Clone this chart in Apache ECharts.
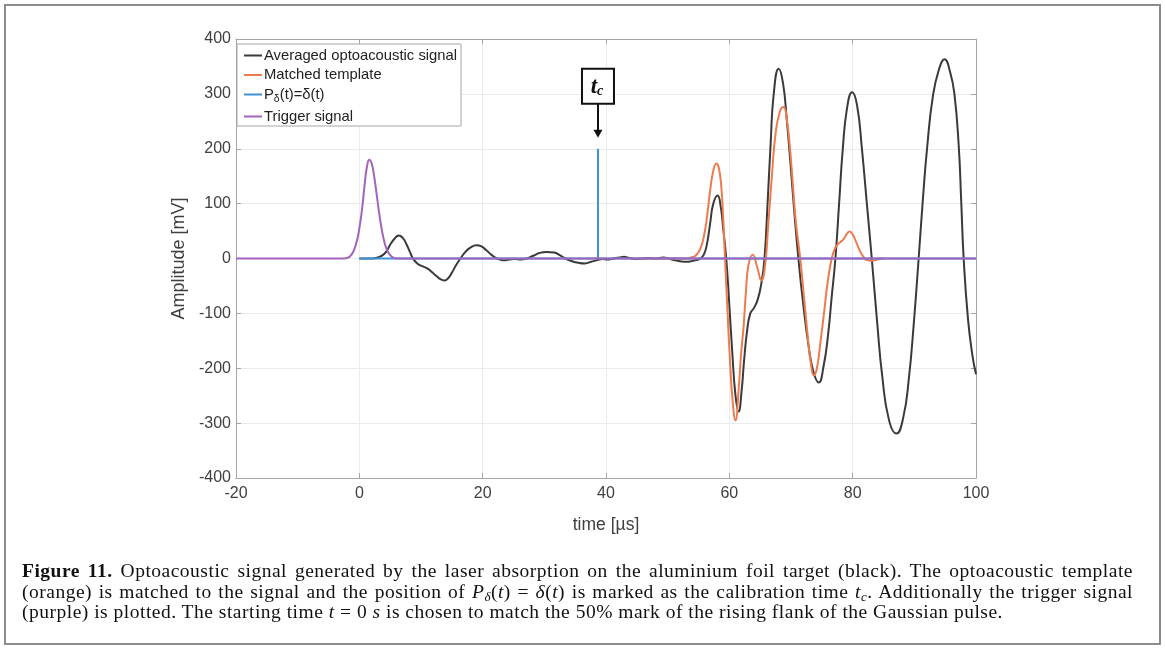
<!DOCTYPE html>
<html>
<head>
<meta charset="utf-8">
<title>Optoacoustic signal</title>
<script src="https://cdn.jsdelivr.net/npm/echarts@6.0.0/dist/echarts.min.js"></script>
<style>
  html, body { margin: 0; padding: 0; background: #ffffff; }
  #wrap { position: relative; width: 1165px; height: 648px; overflow: hidden; }
  #chart { position: absolute; left: 0; top: 0; width: 1165px; height: 648px; }
  #frame { position: absolute; left: 4px; top: 4px; width: 1153px; height: 637px;
           border: 2px solid #8c8c8c; pointer-events: none; }
  #caption { position: absolute; left: 22px; top: 561px; width: 1111px;
             font-family: "Liberation Serif", "DejaVu Serif", serif; font-size: 19.5px;
             letter-spacing: 0.5px; line-height: 20.5px; color: #111; }
  #caption .j { text-align: justify; text-align-last: justify; white-space: nowrap; }
  #caption .l { white-space: nowrap; }
  #caption sub { font-size: 13px; line-height: 0; vertical-align: -3px; }
</style>
</head>
<body>
<div id="wrap">
  <div id="chart"></div>
  <div id="frame"></div>
  <div id="caption">
    <div class="j"><b>Figure 11.</b> Optoacoustic signal generated by the laser absorption on the aluminium foil target (black). The optoacoustic template</div>
    <div class="j">(orange) is matched to the signal and the position of <i>P</i><sub><i>δ</i></sub>(<i>t</i>) = <i>δ</i>(<i>t</i>) is marked as the calibration time <i>t</i><sub><i>c</i></sub>. Additionally the trigger signal</div>
    <div class="l">(purple) is plotted. The starting time <i>t</i> = 0 <i>s</i> is chosen to match the 50% mark of the rising flank of the Gaussian pulse.</div>
  </div>
</div>
<script>
// Averaged optoacoustic signal: [time µs, amplitude mV]
const avgSignal = [
  [0,0],[1,0],[2.2,0],[3.0,2],[3.9,7],[4.5,15],[5.0,25],[5.7,36],[6.4,42],[7.0,38],[7.6,27],[8.2,12],[8.7,0],
  [9.4,-9],[10.2,-14],[11.0,-18],[11.7,-24],[12.5,-32],[13.2,-38],[13.8,-40],[14.4,-36],[15.0,-26],[15.7,-12],
  [16.4,0],[17.2,12],[18.0,20],[19.0,24],[19.8,22],[20.6,15],[21.4,7],[22.3,0],[23.3,-3],[24.3,-2],[25.2,-1],
  [26.2,-2],[27.2,0],[28.2,5],[29.2,10],[30.4,12],[31.6,11],[32.5,6],[33.4,0],[34.5,-5],[35.6,-8],[36.6,-9],
  [37.6,-6],[38.6,-3],[39.4,-1],[40.2,-2],[41.2,0],[42.2,2],[42.9,3],[43.8,1],[44.8,-1],[46,0],[47,1],[48,0],
  [49.3,2],[50.2,0],[51,-3],[52,-5],[53,-6],[53.8,-5],[54.6,-3],[55.3,0],[55.9,8],[56.4,28],[56.9,65],
  [57.4,100],[58.1,115],[58.6,95],[59.0,55],[59.5,0],[60.0,-85],[60.5,-175],[61.0,-250],[61.5,-279],
  [62.0,-240],[62.4,-185],[62.9,-130],[63.4,-100],[64.0,-90],[64.6,-75],[65.2,-45],[65.7,0],[66.2,100],
  [66.7,210],[67.2,300],[68.0,346],[68.7,320],[69.3,255],[69.9,175],[70.5,90],[71.2,0],[72.0,-85],
  [72.8,-155],[73.6,-205],[74.5,-226],[75.3,-195],[76.0,-140],[76.6,-70],[77.2,0],[77.8,100],[78.4,200],
  [79.1,275],[79.9,303],[80.7,280],[81.5,200],[82.3,100],[83.1,0],[84.0,-120],[84.8,-215],[85.9,-295],
  [87.1,-319],[88.2,-290],[89.1,-220],[89.9,-120],[90.7,0],[91.4,110],[92.1,205],[93.0,295],[94.0,345],
  [94.9,363],[95.8,340],[96.5,300],[97.2,205],[97.6,105],[98.0,0],[98.7,-110],[99.4,-175],[100,-211]
];

// Matched template
const templateSignal = [
  [45,0],[50,0],[53,0],[53.8,2],[54.6,6],[55.3,18],[55.9,42],[56.4,78],[56.9,125],[57.4,160],[57.9,173],
  [58.3,165],[58.7,130],[59.0,75],[59.3,0],[59.7,-95],[60.1,-185],[60.5,-255],[61.0,-295],[61.5,-240],
  [61.9,-175],[62.3,-125],[62.7,-60],[63.1,-12],[63.8,7],[64.5,-15],[65.2,-40],[65.8,-12],[66.3,60],
  [66.9,150],[67.5,228],[68.2,268],[68.8,276],[69.3,255],[69.8,205],[70.3,135],[70.8,65],[71.5,0],
  [72.1,-70],[72.7,-140],[73.2,-190],[73.7,-213],[74.2,-200],[74.8,-150],[75.4,-95],[75.9,-47],[76.6,0],
  [77.2,20],[77.8,28],[78.5,35],[79.0,44],[79.5,49],[80.0,44],[80.6,29],[81.2,13],[81.7,4],[82.3,-3],
  [83.0,-4],[83.7,-3],[84.3,-1],[85.0,0]
];

// Calibration time t_c and the delta pulse placed there
const tcTime = 38.7;
const deltaHeight = 200;
const deltaSignal = [[0,0],[tcTime,0],[tcTime,deltaHeight],[tcTime,0],[100,0]];

// Trigger signal (Gaussian pulse)
const triggerSignal = [
  [-20,0],[-3,0],[-2,1],[-1.2,8],[-0.5,28],[0,55],[0.44,90],[0.87,135],[1.2,165],[1.62,180],[2.0,173],
  [2.4,150],[2.8,118],[3.1,92],[3.5,62],[3.9,38],[4.4,18],[5.0,6],[5.6,1],[6.2,0],[100,0]
];

const xTicks = { min: -20, max: 100, step: 20 };
const yTicks = { min: -400, max: 400, step: 100 };

const seriesNames = ['Averaged optoacoustic signal', 'Matched template', 'Pdelta', 'Trigger signal'];
const colors = ['#3a3a3a', '#ee7b50', '#3f93d5', '#a463bc'];

const chart = echarts.init(document.getElementById('chart'), null, { renderer: 'canvas' });

const axisGray = '#a6a6a6';
const labelFont = '"Liberation Sans", Arial, sans-serif';

function xAxisCfg(pos, showLabels) {
  return {
    type: 'value', position: pos, min: xTicks.min, max: xTicks.max, interval: xTicks.step,
    axisLine: { show: true, onZero: false, lineStyle: { color: axisGray, width: 1 } },
    axisTick: { show: true, inside: true, length: 5, lineStyle: { color: axisGray } },
    axisLabel: { show: showLabels, color: '#404040', fontSize: 16, fontFamily: labelFont, margin: 8 },
    splitLine: { show: showLabels, lineStyle: { color: '#ebebeb', width: 1 } },
    name: showLabels ? 'time [µs]' : '', nameLocation: 'middle', nameGap: 38,
    nameTextStyle: { color: '#404040', fontSize: 17.5, fontFamily: labelFont }
  };
}
function yAxisCfg(pos, showLabels) {
  return {
    type: 'value', position: pos, min: yTicks.min, max: yTicks.max, interval: yTicks.step,
    axisLine: { show: true, onZero: false, lineStyle: { color: axisGray, width: 1 } },
    axisTick: { show: true, inside: true, length: 5, lineStyle: { color: axisGray } },
    axisLabel: { show: showLabels, color: '#404040', fontSize: 16, fontFamily: labelFont, margin: 5 },
    splitLine: { show: showLabels, lineStyle: { color: '#ebebeb', width: 1 } },
    name: showLabels ? 'Amplitude [mV]' : '', nameLocation: 'middle', nameGap: 36,
    nameTextStyle: { color: '#404040', fontSize: 18, fontFamily: labelFont }
  };
}

function lineSeries(i, data, smooth) {
  return {
    name: seriesNames[i], type: 'line', data: data, xAxisIndex: 0, yAxisIndex: 0,
    showSymbol: false, symbol: 'none', smooth: smooth,
    lineStyle: { color: colors[i], width: 2 }, itemStyle: { color: colors[i] },
    z: 2 + i, animation: false, silent: true
  };
}

chart.setOption({
  animation: false,
  backgroundColor: '#ffffff',
  grid: { left: 236, right: 189, top: 39, bottom: 170, containLabel: false },
  xAxis: [xAxisCfg('bottom', true), xAxisCfg('top', false)],
  yAxis: [yAxisCfg('left', true), yAxisCfg('right', false)],
  legend: {
    orient: 'vertical', left: 237, top: 44,
    data: seriesNames,
    icon: 'rect', itemWidth: 18, itemHeight: 2, itemGap: 4.5,
    padding: [4, 4, 2, 7],
    backgroundColor: '#ffffff', borderColor: '#a6a6a6', borderWidth: 1,
    textStyle: {
      color: '#222', fontSize: 14.8, fontFamily: labelFont, padding: [0, 0, 0, -3],
      rich: {
        n: { fontSize: 14.8, fontFamily: labelFont, color: '#222' },
        s: { fontSize: 10.5, fontFamily: labelFont, color: '#222', padding: [9, 0, 0, 0] }
      }
    },
    formatter: function (name) {
      if (name === 'Pdelta') return '{n|P}{s|δ}{n|(t)=δ(t)}';
      return name;
    },
    selectedMode: false
  },
  series: [
    lineSeries(0, avgSignal, 0.5),
    lineSeries(1, templateSignal, 0.5),
    lineSeries(2, deltaSignal, false),
    lineSeries(3, triggerSignal, 0.5)
  ]
});

// t_c marker: boxed label with an arrow pointing at the delta pulse
const spikeTop = chart.convertToPixel({ xAxisIndex: 0, yAxisIndex: 0 }, [tcTime, deltaHeight]);
const cx = spikeTop[0];
const tipY = spikeTop[1] - 11;
const boxBottom = tipY - 34;
const boxH = 35, boxW = 32;
chart.setOption({
  graphic: [
    {
      type: 'rect', z: 100,
      shape: { x: cx - boxW / 2, y: boxBottom - boxH, width: boxW, height: boxH },
      style: { fill: '#ffffff', stroke: '#111111', lineWidth: 2 }
    },
    {
      type: 'text', z: 101,
      x: cx - 1, y: boxBottom - boxH / 2 + 1,
      style: {
        text: '{t|t}{c|c}',
        align: 'center', verticalAlign: 'middle',
        rich: {
          t: { fontSize: 23, fontWeight: 'bold', fontStyle: 'italic', fontFamily: '"Liberation Serif", serif', fill: '#111' },
          c: { fontSize: 14, fontWeight: 'bold', fontStyle: 'italic', fontFamily: '"Liberation Serif", serif', fill: '#111', padding: [8, 0, 0, 0] }
        }
      }
    },
    {
      type: 'line', z: 100,
      shape: { x1: cx, y1: boxBottom, x2: cx, y2: tipY - 6 },
      style: { stroke: '#111111', lineWidth: 2 }
    },
    {
      type: 'polygon', z: 100,
      shape: { points: [[cx - 4.5, tipY - 8], [cx + 4.5, tipY - 8], [cx, tipY]] },
      style: { fill: '#111111' }
    }
  ]
});
</script>
</body>
</html>
